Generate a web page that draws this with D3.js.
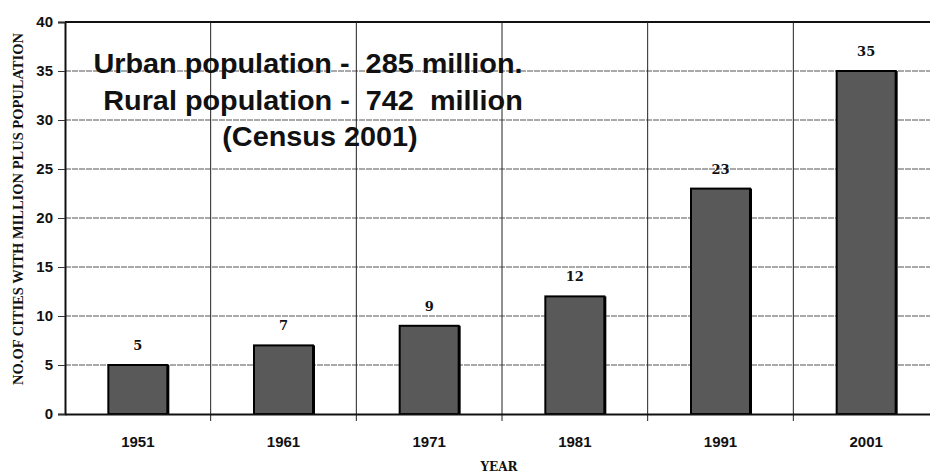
<!DOCTYPE html>
<html>
<head>
<meta charset="utf-8">
<script src="https://cdn.jsdelivr.net/npm/d3@7"></script>
<style>
  body { margin: 0; background: #fff; }
  svg { display: block; }
</style>
</head>
<body>
<svg id="chart" width="930" height="475"></svg>
<script>
// census years and number of million-plus cities
var years = ["1951", "1961", "1971", "1981", "1991", "2001"]
var cities = [5, 7, 9, 12, 23, 35]
var yTicks = [0, 5, 10, 15, 20, 25, 30, 35, 40]
var notes = ["Urban population -  285 million.", "Rural population -  742  million", "(Census 2001)"]

var svg = d3.select("#chart")
var plotLeft = 65, plotRight = 939, plotTop = 22, plotBottom = 414

var x = d3.scaleBand().domain(years).range([plotLeft, plotRight]).paddingInner(0.595).paddingOuter(0.2975)
var xGrid = d3.scaleBand().domain(years).range([plotLeft, plotRight])
var y = d3.scaleLinear().domain([0, 40]).range([plotBottom, plotTop])

// horizontal gridlines
svg.selectAll(".hgrid")
    .data(yTicks.slice(1))
    .enter()
    .append("line")
    .attr("x1", plotLeft).attr("x2", plotRight)
    .attr("y1", function (d) { return y(d) })
    .attr("y2", function (d) { return y(d) })
    .attr("stroke", function (d) { return d == 40 ? "#111" : "#555" })
    .attr("stroke-width", function (d) { return d == 40 ? 2 : 1 })
    .attr("stroke-dasharray", function (d) { return d == 40 ? null : "6,1" })

// vertical gridlines at category boundaries
svg.selectAll(".vgrid")
    .data(years.slice(1))
    .enter()
    .append("line")
    .attr("x1", function (d) { return xGrid(d) })
    .attr("x2", function (d) { return xGrid(d) })
    .attr("y1", plotTop).attr("y2", plotBottom + 7)
    .attr("stroke", "#222")
    .attr("stroke-width", 1)

// annotation
var noteX = [308, 313, 320], noteY = [73, 110, 146]
svg.selectAll(".note")
    .data(notes)
    .enter()
    .append("text")
    .attr("transform", function (d, i) { return "translate(" + noteX[i] + "," + noteY[i] + ") scale(1.03,1)" })
    .attr("text-anchor", "middle")
    .attr("font-family", "Liberation Sans, Arial, sans-serif")
    .attr("font-weight", "bold")
    .attr("font-size", "28px")
    .attr("fill", "#111")
    .style("white-space", "pre")
    .text(function (d) { return d })

// bars
svg.selectAll(".bar")
    .data(cities)
    .enter()
    .append("rect")
    .attr("x", function (d, i) { return x(years[i]) })
    .attr("y", function (d) { return y(d) })
    .attr("width", x.bandwidth())
    .attr("height", function (d) { return plotBottom - y(d) })
    .attr("fill", "#595959")
    .attr("stroke", "#000")
    .attr("stroke-width", 2)

// bar shadow on right edge
svg.selectAll(".shade")
    .data(cities)
    .enter()
    .append("line")
    .attr("x1", function (d, i) { return x(years[i]) + x.bandwidth() + 1 })
    .attr("x2", function (d, i) { return x(years[i]) + x.bandwidth() + 1 })
    .attr("y1", function (d) { return y(d) })
    .attr("y2", plotBottom)
    .attr("stroke", "#000")
    .attr("stroke-width", 2)

// value labels
svg.selectAll(".val")
    .data(cities)
    .enter()
    .append("text")
    .attr("x", function (d, i) { return x(years[i]) + x.bandwidth() / 2 })
    .attr("y", function (d) { return y(d) - 15 })
    .attr("text-anchor", "middle")
    .attr("font-family", "DejaVu Serif, serif")
    .attr("font-weight", "bold")
    .attr("font-size", "13px")
    .attr("fill", "#111")
    .text(function (d) { return d })

// y axis
var yAxis = svg.append("g")
    .attr("transform", "translate(" + plotLeft + ",0)")
    .call(d3.axisLeft(y).tickValues(yTicks).tickSize(7).tickPadding(5))
yAxis.select(".domain").attr("stroke", "#111").attr("stroke-width", 2)
yAxis.selectAll(".tick line").attr("stroke", "#333")
yAxis.selectAll("text")
    .attr("font-family", "Liberation Sans, Arial, sans-serif")
    .attr("font-weight", "bold")
    .attr("font-size", "15px")
    .attr("fill", "#111")

// x axis
var xAxis = svg.append("g")
    .attr("transform", "translate(0," + plotBottom + ")")
    .call(d3.axisBottom(x).tickSize(0).tickPadding(22))
xAxis.select(".domain").attr("stroke", "#111").attr("stroke-width", 2)
xAxis.selectAll("text")
    .attr("font-family", "Liberation Sans, Arial, sans-serif")
    .attr("font-weight", "bold")
    .attr("font-size", "15px")
    .attr("fill", "#111")

// axis titles
svg.append("text")
    .attr("x", 499).attr("y", 471)
    .attr("text-anchor", "middle")
    .attr("font-family", "DejaVu Serif, serif")
    .attr("font-weight", "bold")
    .attr("font-size", "12px")
    .attr("fill", "#111")
    .text("YEAR")

svg.append("text")
    .attr("transform", "translate(23,209) rotate(-90)")
    .attr("text-anchor", "middle")
    .attr("font-family", "Liberation Serif, serif")
    .attr("font-weight", "bold")
    .attr("font-size", "14.5px")
    .attr("fill", "#111")
    .text("NO.OF CITIES WITH MILLION PLUS POPULATION")
</script>
</body>
</html>
